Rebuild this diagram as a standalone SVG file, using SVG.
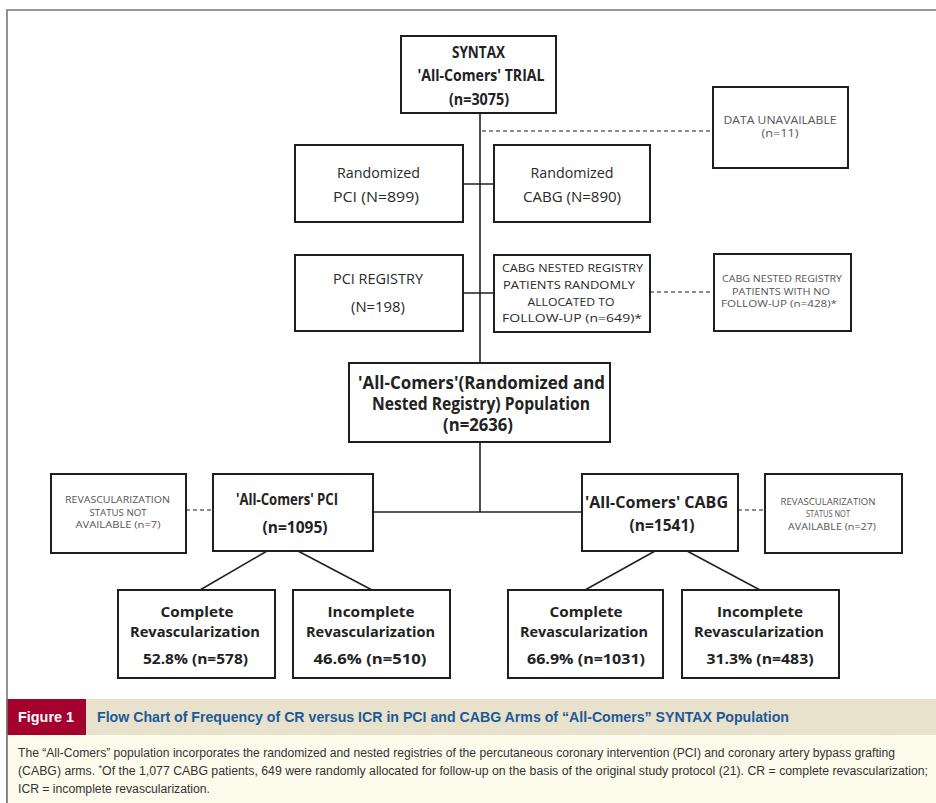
<svg xmlns="http://www.w3.org/2000/svg" width="936" height="803" viewBox="0 0 936 803">
<style>
.box{fill:#fff;stroke:#1e1e1e;stroke-width:2}
.t{font-family:"Open Sans","Noto Sans","Liberation Sans",sans-serif;text-anchor:middle;fill:#2a2a2a}
.b{font-weight:bold;fill:#222}
.s{fill:#555}
.ln{stroke:#222;stroke-width:1.6;fill:none}
.dl{stroke:#666;stroke-width:1.3;stroke-dasharray:4 3;fill:none}
.cap{font-family:"Liberation Sans","Arial",sans-serif;fill:#333;font-size:12px}
</style>
<rect x="0" y="0" width="936" height="803" fill="#fff"/>
<path d="M7 803 V10 H936" fill="none" stroke="#777" stroke-width="1.6"/>

<g id="connectors">
<path class="ln" d="M480 113 V363 M463 184 H494 M463 293 H494 M480 442 V512 M373 512 H582"/>
<path class="ln" d="M267 551 L200 590 M298 551 L372 590 M655 551 L585 590 M687 551 L760 590"/>
<path class="dl" d="M482 131 H713 M650 292 H714 M186 510 H213 M738 510 H765"/>
</g>

<g id="syntax">
<rect class="box" x="401" y="36" width="155" height="77"/>
<text class="t b" font-size="16" x="478.5" y="58" textLength="53" lengthAdjust="spacingAndGlyphs">SYNTAX</text>
<text class="t b" font-size="16" x="481" y="81" textLength="127" lengthAdjust="spacingAndGlyphs">'All-Comers' TRIAL</text>
<text class="t b" font-size="16" x="479" y="105" textLength="60" lengthAdjust="spacingAndGlyphs">(n=3075)</text>
</g>

<g id="data-unavailable">
<rect class="box" x="713" y="87" width="135" height="81"/>
<text class="t s" font-size="10" x="780" y="124" textLength="113" lengthAdjust="spacingAndGlyphs">DATA UNAVAILABLE</text>
<text class="t s" font-size="10" x="780" y="137" textLength="37" lengthAdjust="spacingAndGlyphs">(n=11)</text>
</g>

<g id="rand-pci">
<rect class="box" x="295" y="145" width="168" height="77"/>
<text class="t" font-size="14.5" x="378.5" y="178" textLength="83" lengthAdjust="spacingAndGlyphs">Randomized</text>
<text class="t" font-size="14.5" x="376" y="202" textLength="86" lengthAdjust="spacingAndGlyphs">PCI (N=899)</text>
</g>

<g id="rand-cabg">
<rect class="box" x="494" y="145" width="156" height="77"/>
<text class="t" font-size="14.5" x="572" y="178" textLength="83" lengthAdjust="spacingAndGlyphs">Randomized</text>
<text class="t" font-size="14.5" x="572" y="202" textLength="98" lengthAdjust="spacingAndGlyphs">CABG (N=890)</text>
</g>

<g id="pci-registry">
<rect class="box" x="295" y="255" width="168" height="76"/>
<text class="t" font-size="14.5" x="378" y="284" textLength="90" lengthAdjust="spacingAndGlyphs">PCI REGISTRY</text>
<text class="t" font-size="14.5" x="378" y="312" textLength="54" lengthAdjust="spacingAndGlyphs">(N=198)</text>
</g>

<g id="cabg-nested">
<rect class="box" x="494" y="255" width="156" height="77"/>
<text class="t" font-size="11.5" x="572.5" y="272" textLength="141" lengthAdjust="spacingAndGlyphs">CABG NESTED REGISTRY</text>
<text class="t" font-size="11.5" x="569" y="289" textLength="132" lengthAdjust="spacingAndGlyphs">PATIENTS RANDOMLY</text>
<text class="t" font-size="11.5" x="571" y="306" textLength="87" lengthAdjust="spacingAndGlyphs">ALLOCATED TO</text>
<text class="t" font-size="11.5" x="572" y="322" textLength="140" lengthAdjust="spacingAndGlyphs">FOLLOW-UP (n=649)*</text>
</g>

<g id="cabg-no-followup">
<rect class="box" x="714" y="254" width="137" height="77"/>
<text class="t s" font-size="9" x="782" y="282" textLength="120" lengthAdjust="spacingAndGlyphs">CABG NESTED REGISTRY</text>
<text class="t s" font-size="9" x="781" y="295" textLength="98" lengthAdjust="spacingAndGlyphs">PATIENTS WITH NO</text>
<text class="t s" font-size="9" x="779" y="307" textLength="116" lengthAdjust="spacingAndGlyphs">FOLLOW-UP (n=428)*</text>
</g>

<g id="population">
<rect class="box" x="349" y="363" width="261" height="79"/>
<text class="t b" font-size="17" x="481.5" y="389" textLength="247" lengthAdjust="spacingAndGlyphs">'All-Comers'(Randomized and</text>
<text class="t b" font-size="17" x="481" y="410" textLength="218" lengthAdjust="spacingAndGlyphs">Nested Registry) Population</text>
<text class="t b" font-size="17" x="478" y="431" textLength="70" lengthAdjust="spacingAndGlyphs">(n=2636)</text>
</g>

<g id="allcomers-pci">
<rect class="box" x="213" y="474" width="160" height="77"/>
<text class="t b" font-size="16" x="287" y="505" textLength="102" lengthAdjust="spacingAndGlyphs">'All-Comers' PCI</text>
<text class="t b" font-size="16" x="295" y="533" textLength="65" lengthAdjust="spacingAndGlyphs">(n=1095)</text>
</g>

<g id="revasc-na-pci">
<rect class="box" x="51" y="474" width="135" height="79"/>
<text class="t s" font-size="8.5" x="117.5" y="503" textLength="105" lengthAdjust="spacingAndGlyphs">REVASCULARIZATION</text>
<text class="t s" font-size="8.5" x="118" y="516" textLength="57" lengthAdjust="spacingAndGlyphs">STATUS NOT</text>
<text class="t s" font-size="8.5" x="118" y="528" textLength="85" lengthAdjust="spacingAndGlyphs">AVAILABLE (n=7)</text>
</g>

<g id="allcomers-cabg">
<rect class="box" x="582" y="474" width="156" height="77"/>
<text class="t b" font-size="16" x="656.5" y="508" textLength="143" lengthAdjust="spacingAndGlyphs">'All-Comers' CABG</text>
<text class="t b" font-size="16" x="662" y="531" textLength="65" lengthAdjust="spacingAndGlyphs">(n=1541)</text>
</g>

<g id="revasc-na-cabg">
<rect class="box" x="765" y="474" width="137" height="79"/>
<text class="t s" font-size="8.5" x="828" y="505" textLength="95" lengthAdjust="spacingAndGlyphs">REVASCULARIZATION</text>
<text class="t s" font-size="8.5" x="828" y="517" textLength="44" lengthAdjust="spacingAndGlyphs">STATUS NOT</text>
<text class="t s" font-size="8.5" x="832" y="530" textLength="88" lengthAdjust="spacingAndGlyphs">AVAILABLE (n=27)</text>
</g>

<g id="pci-complete">
<rect class="box" x="118" y="590" width="157" height="88"/>
<text class="t b" font-size="15" x="197" y="617" textLength="73" lengthAdjust="spacingAndGlyphs">Complete</text>
<text class="t b" font-size="15" x="195" y="637" textLength="130" lengthAdjust="spacingAndGlyphs">Revascularization</text>
<text class="t b" font-size="15" x="195.5" y="664" textLength="105" lengthAdjust="spacingAndGlyphs">52.8% (n=578)</text>
</g>

<g id="pci-incomplete">
<rect class="box" x="293" y="590" width="157" height="88"/>
<text class="t b" font-size="15" x="371" y="617" textLength="87" lengthAdjust="spacingAndGlyphs">Incomplete</text>
<text class="t b" font-size="15" x="370.5" y="637" textLength="129" lengthAdjust="spacingAndGlyphs">Revascularization</text>
<text class="t b" font-size="15" x="370" y="664" textLength="113" lengthAdjust="spacingAndGlyphs">46.6% (n=510)</text>
</g>

<g id="cabg-complete">
<rect class="box" x="508" y="590" width="155" height="88"/>
<text class="t b" font-size="15" x="586" y="617" textLength="73" lengthAdjust="spacingAndGlyphs">Complete</text>
<text class="t b" font-size="15" x="584" y="637" textLength="128" lengthAdjust="spacingAndGlyphs">Revascularization</text>
<text class="t b" font-size="15" x="586" y="664" textLength="118" lengthAdjust="spacingAndGlyphs">66.9% (n=1031)</text>
</g>

<g id="cabg-incomplete">
<rect class="box" x="682" y="590" width="157" height="88"/>
<text class="t b" font-size="15" x="760" y="617" textLength="86" lengthAdjust="spacingAndGlyphs">Incomplete</text>
<text class="t b" font-size="15" x="759" y="637" textLength="130" lengthAdjust="spacingAndGlyphs">Revascularization</text>
<text class="t b" font-size="15" x="760" y="664" textLength="107" lengthAdjust="spacingAndGlyphs">31.3% (n=483)</text>
</g>

<g id="caption">
<rect x="7" y="699" width="929" height="36" fill="#e8e1cb"/>
<rect x="7" y="699" width="79" height="36" fill="#a5012f"/>
<rect x="7" y="735" width="929" height="68" fill="#fdfbec"/>
<line x1="7" y1="699" x2="7" y2="803" stroke="#777" stroke-width="1.6"/>
<text x="18" y="722" font-family="Liberation Sans, Arial, sans-serif" font-weight="bold" font-size="15" fill="#fff" textLength="56" lengthAdjust="spacingAndGlyphs">Figure 1</text>
<text x="97" y="722" font-family="Liberation Sans, Arial, sans-serif" font-weight="bold" font-size="14" fill="#1b5a99" textLength="692" lengthAdjust="spacingAndGlyphs">Flow Chart of Frequency of CR versus ICR in PCI and CABG Arms of “All-Comers” SYNTAX Population</text>
<text class="cap" x="18" y="757" textLength="877" lengthAdjust="spacingAndGlyphs">The “All-Comers” population incorporates the randomized and nested registries of the percutaneous coronary intervention (PCI) and coronary artery bypass grafting</text>
<text class="cap" x="18" y="775" textLength="910" lengthAdjust="spacingAndGlyphs">(CABG) arms. <tspan font-size="9" dy="-4">*</tspan><tspan dy="4">Of the 1,077 CABG patients, 649 were randomly allocated for follow-up on the basis of the original study protocol (21). CR = complete revascularization;</tspan></text>
<text class="cap" x="18" y="793" textLength="192" lengthAdjust="spacingAndGlyphs">ICR = incomplete revascularization.</text>
</g>
</svg>
